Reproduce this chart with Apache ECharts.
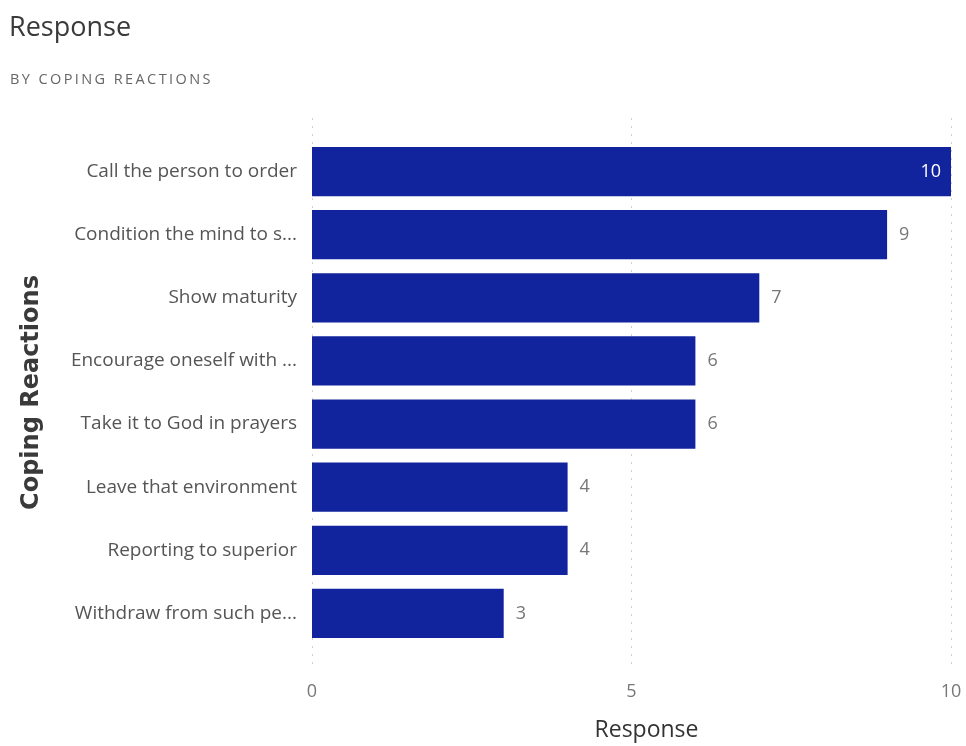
<!DOCTYPE html>
<html>
<head>
<meta charset="utf-8">
<script src="https://cdn.jsdelivr.net/npm/echarts@6/dist/echarts.min.js"></script>
<style>
  html, body { margin: 0; padding: 0; background: #ffffff; }
  #chart { width: 966px; height: 746px; }
</style>
</head>
<body>
<div id="chart"></div>
<script>
// Coping reactions, listed top to bottom
const categories = [
  'Call the person to order',
  'Condition the mind to s...',
  'Show maturity',
  'Encourage oneself with ...',
  'Take it to God in prayers',
  'Leave that environment',
  'Reporting to superior',
  'Withdraw from such pe...'
];
// Number of responses per reaction
const responses = [10, 9, 7, 6, 6, 4, 4, 3];
const xTicks = [0, 5, 10];

const uiFont = '"Open Sans", "Noto Sans", sans-serif';
const barColor = '#12239E';

// spread letters of the small caps subtitle with thin spaces
const spaced = s => s.split('').join('\u2009');

const chart = echarts.init(document.getElementById('chart'));
chart.setOption({
  backgroundColor: '#ffffff',
  animation: false,
  title: [
    {
      text: 'Response',
      left: 4, top: 10,
      textStyle: { fontFamily: uiFont, fontSize: 27, fontWeight: 'normal', color: '#3a3a3a' }
    },
    {
      text: spaced('BY COPING REACTIONS'),
      left: 5, top: 67,
      textStyle: { fontFamily: uiFont, fontSize: 14.5, fontWeight: 'normal', color: '#666666' }
    }
  ],
  grid: [
    // bars
    { left: 312, right: 15, top: 140, bottom: 101, outerBoundsMode: 'none' },
    // taller frame that carries the dotted vertical gridlines
    { left: 312, right: 15, top: 118, bottom: 80, outerBoundsMode: 'none' }
  ],
  xAxis: [
    {
      type: 'value',
      gridIndex: 0,
      min: 0, max: 10, interval: 5,
      name: 'Response',
      nameLocation: 'middle',
      nameGap: 74,
      nameTextStyle: { fontFamily: uiFont, fontSize: 23, color: '#333333', padding: [0, 0, 0, 30] },
      axisLine: { show: false },
      axisTick: { show: false },
      axisLabel: {
        margin: 38,
        fontFamily: uiFont, fontSize: 18, color: '#777777',
        formatter: v => xTicks.includes(v) ? String(v) : ''
      },
      splitLine: { show: false }
    },
    {
      type: 'value',
      gridIndex: 1,
      min: 0, max: 10, interval: 5,
      axisLine: { show: false },
      axisTick: { show: false },
      axisLabel: { show: false },
      splitLine: { show: true, lineStyle: { type: [2, 6], color: '#d2d2d2', width: 1 } }
    }
  ],
  yAxis: [
    {
      type: 'category',
      gridIndex: 0,
      data: categories,
      inverse: true,
      name: 'Coping Reactions',
      nameLocation: 'middle',
      nameGap: 268,
      nameRotate: 90,
      nameTextStyle: { fontFamily: '"DejaVu Sans", "Noto Sans", sans-serif', fontSize: 24, fontWeight: 'bold', color: '#3a3a3a' },
      axisLine: { show: false },
      axisTick: { show: false },
      axisLabel: {
        margin: 15,
        fontFamily: uiFont, fontSize: 19, color: '#555555'
      }
    },
    {
      type: 'value',
      gridIndex: 1,
      show: false
    }
  ],
  series: [{
    type: 'bar',
    xAxisIndex: 0,
    yAxisIndex: 0,
    data: responses.map((v, i) => ({
      value: v,
      label: i === 0
        ? { position: 'insideRight', color: '#ffffff', distance: 10 }
        : { position: 'right', color: '#777777', distance: 12 }
    })),
    barCategoryGap: '22%',
    itemStyle: { color: barColor },
    label: { show: true, fontFamily: uiFont, fontSize: 18 }
  }]
});
</script>
</body>
</html>
